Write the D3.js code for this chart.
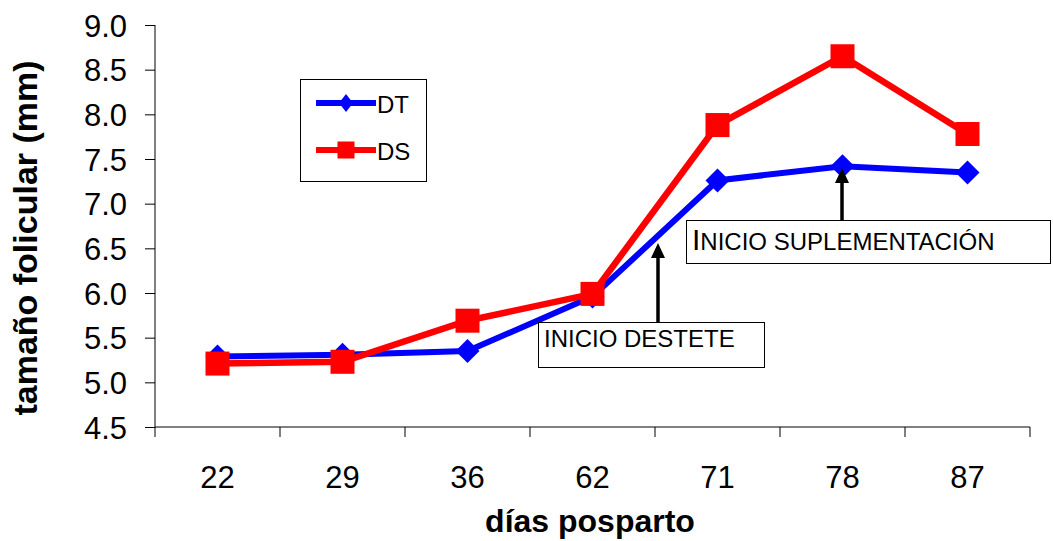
<!DOCTYPE html>
<html><head><meta charset="utf-8">
<script src="https://cdn.jsdelivr.net/npm/d3@7"></script>
<style>body{margin:0;background:#fff}svg{display:block;font-family:Arial,"Liberation Sans",sans-serif}</style>
</head><body><svg id="c" width="1053" height="541"></svg>
<script>
const categories = ["22","29","36","62","71","78","87"];
const dtValues = [5.29, 5.31, 5.35, 5.96, 7.26, 7.42, 7.35];
const dsValues = [5.21, 5.23, 5.69, 5.99, 7.88, 8.65, 7.78];
const yTicks = [4.5,5.0,5.5,6.0,6.5,7.0,7.5,8.0,8.5,9.0];
const seriesNames = ["DT","DS"];

const svg = d3.select("#c");
const x = d3.scaleBand().domain(categories).range([155,1030]);
const y = d3.scaleLinear().domain([4.5,9.0]).range([427,25]);

// axes
const yAxis = svg.append("g").attr("transform","translate(155,0)")
  .call(d3.axisLeft(y).tickValues(yTicks).tickFormat(d3.format(".1f")).tickSize(10).tickPadding(18));
yAxis.select(".domain").attr("d","M0,25V427").attr("stroke","#000");
yAxis.selectAll("text").attr("font-size",31).attr("fill","#000").attr("font-family","Arial, Liberation Sans, sans-serif").attr("dy","0.36em");
yAxis.selectAll("line").attr("stroke","#000");

const xAxis = svg.append("g").attr("transform","translate(0,427)");
xAxis.append("line").attr("x1",155).attr("x2",1030).attr("stroke","#000");
const bounds = categories.map(c=>x(c)).concat([1030]);
xAxis.selectAll("line.t").data(bounds).join("line").attr("class","t")
  .attr("x1",d=>d).attr("x2",d=>d).attr("y1",0).attr("y2",10).attr("stroke","#000");
xAxis.selectAll("text").data(categories).join("text")
  .attr("x",d=>x(d)+x.bandwidth()/2).attr("y",61).attr("text-anchor","middle")
  .attr("font-size",31).attr("fill","#000").text(d=>d);

// titles
svg.append("text").attr("transform","translate(37,238) rotate(-90)").attr("text-anchor","middle")
  .attr("font-size",34).attr("font-weight","bold").text("tamaño folicular (mm)");
svg.append("text").attr("x",590).attr("y",532).attr("text-anchor","middle")
  .attr("font-size",32).attr("font-weight","bold").text("días posparto");

const cx = d => x(d)+x.bandwidth()/2;
const line = d3.line().x((d,i)=>cx(categories[i])).y(d=>y(d));

function diamond(g, px, py, rx, ry){
  g.append("path").attr("d",`M${px},${py-ry}L${px+rx},${py}L${px},${py+ry}L${px-rx},${py}Z`).attr("fill","#0000FF");
}
function square(g, px, py, s){
  g.append("rect").attr("x",px-s/2).attr("y",py-s/2).attr("width",s).attr("height",s).attr("fill","#FF0000");
}

// DT
svg.append("path").datum(dtValues).attr("d",line).attr("fill","none").attr("stroke","#0000FF").attr("stroke-width",6);
const gDT = svg.append("g");
dtValues.forEach((v,i)=>diamond(gDT, cx(categories[i]), y(v), 12, 12));
// DS
svg.append("path").datum(dsValues).attr("d",line).attr("fill","none").attr("stroke","#FF0000").attr("stroke-width",6.5);
const gDS = svg.append("g");
dsValues.forEach((v,i)=>square(gDS, cx(categories[i]), y(v), 24));

// legend
const lg = svg.append("g");
lg.append("rect").attr("x",300.5).attr("y",79.5).attr("width",126).attr("height",102).attr("fill","#fff").attr("stroke","#000").attr("stroke-width",1);
[[103,"#0000FF","DT"],[150,"#FF0000","DS"]].forEach(([ly,col,name],k)=>{
  lg.append("line").attr("x1",316).attr("x2",376).attr("y1",ly).attr("y2",ly).attr("stroke",col).attr("stroke-width",6);
  if(k===0) diamond(lg,346,ly,7,9); else square(lg,346,ly,17);
  lg.append("text").attr("x",377).attr("y",ly+1).attr("dy","0.36em").attr("font-size",24).text(name);
});

// annotations
function arrow(xp, y1, y2){
  svg.append("line").attr("x1",xp).attr("x2",xp).attr("y1",y1).attr("y2",y2+12).attr("stroke","#000").attr("stroke-width",3.5);
  svg.append("path").attr("d",`M${xp},${y2}L${xp-7},${y2+15}L${xp+7},${y2+15}Z`).attr("fill","#000");
}
svg.append("rect").attr("x",538.5).attr("y",322.5).attr("width",226).attr("height",45).attr("fill","#fff").attr("stroke","#000");
svg.append("text").attr("x",544).attr("y",347).attr("font-size",24).text("INICIO DESTETE");
arrow(658, 322, 243);

svg.append("rect").attr("x",686.5).attr("y",220.5).attr("width",364).attr("height",43).attr("fill","#fff").attr("stroke","#000");
const t2 = svg.append("text").attr("x",692).attr("y",250).attr("font-size",30);
t2.append("tspan").text("I");
t2.append("tspan").attr("font-size",24).text("NICIO SUPLEMENTACIÓN");
arrow(842, 220, 168);
</script></body></html>
